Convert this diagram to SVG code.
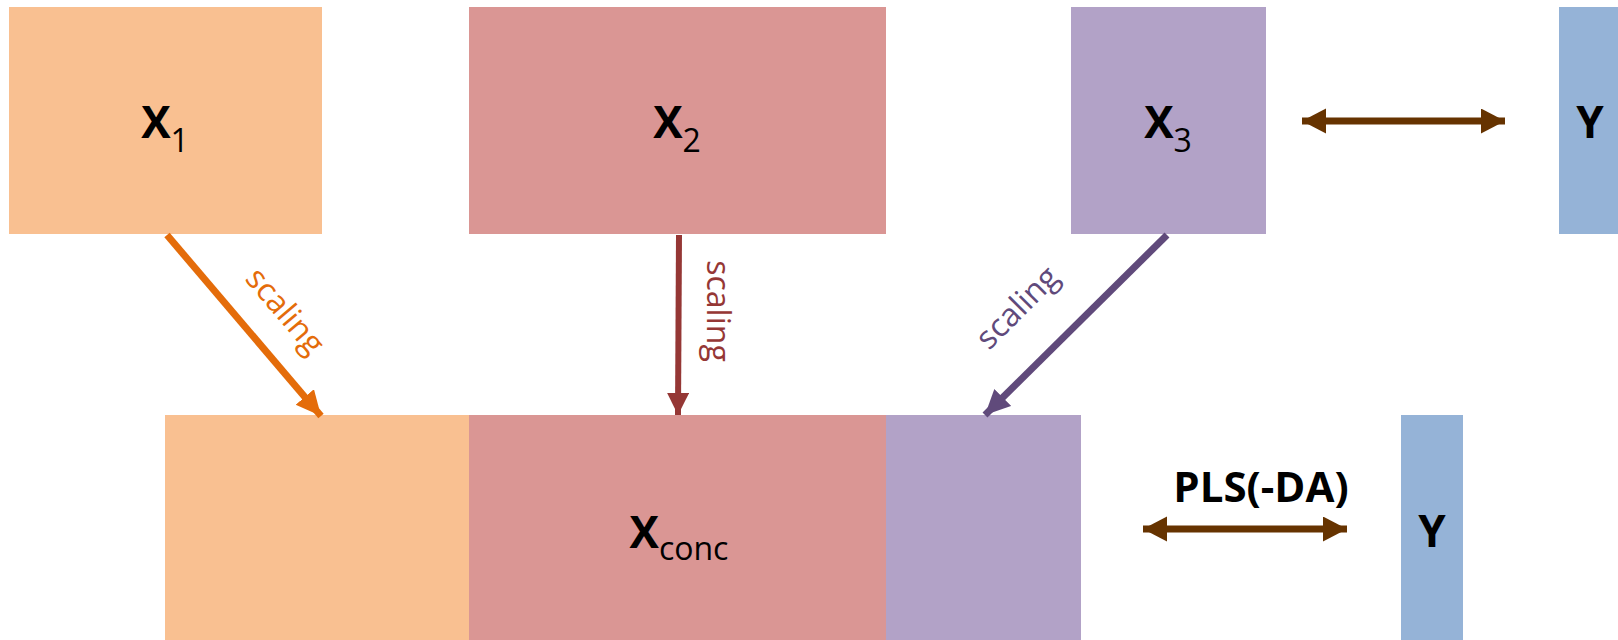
<svg xmlns="http://www.w3.org/2000/svg" width="1618" height="640" viewBox="0 0 1618 640">
<style>
.lbl{font-family:"Open Sans","Noto Sans",sans-serif;font-weight:700;fill:#000;}
.sub{font-weight:400;}
.sc{font-family:"Open Sans","Noto Sans",sans-serif;font-size:32px;}
</style>
<defs>
<marker id="hOr" markerUnits="userSpaceOnUse" markerWidth="30" markerHeight="30" refX="25" refY="12" orient="auto"><path d="M0,0 L25,12 L0,24 Z" fill="#E46C0A"/></marker>
<marker id="hPk" markerUnits="userSpaceOnUse" markerWidth="30" markerHeight="30" refX="22" refY="11" orient="auto"><path d="M0,0 L22,11 L0,22 Z" fill="#953735"/></marker>
<marker id="hPu" markerUnits="userSpaceOnUse" markerWidth="30" markerHeight="30" refX="25" refY="12" orient="auto"><path d="M0,0 L25,12 L0,24 Z" fill="#604A7B"/></marker>
<marker id="hBr" markerUnits="userSpaceOnUse" markerWidth="30" markerHeight="30" refX="24" refY="12.5" orient="auto-start-reverse"><path d="M0,0 L24,12.5 L0,25 Z" fill="#663300"/></marker>
</defs>
<rect width="1618" height="640" fill="#fff"/>
<g id="X1"><rect x="9" y="7" width="313" height="227" fill="#F9C091"/><text class="lbl" x="165" y="138" font-size="44" text-anchor="middle">X<tspan class="sub" font-size="32" dy="14">1</tspan></text></g>
<g id="X2"><rect x="469" y="7" width="417" height="227" fill="#DA9694"/><text class="lbl" x="677" y="138" font-size="44" text-anchor="middle">X<tspan class="sub" font-size="32" dy="14">2</tspan></text></g>
<g id="X3"><rect x="1071" y="7" width="195" height="227" fill="#B2A2C7"/><text class="lbl" x="1168" y="138" font-size="44" text-anchor="middle">X<tspan class="sub" font-size="32" dy="14">3</tspan></text></g>
<g id="Ytop"><rect x="1559" y="7" width="62" height="227" fill="#95B3D7"/><text class="lbl" x="1590" y="138" font-size="44" text-anchor="middle">Y</text></g>
<g id="Xconc"><rect x="165" y="415" width="305" height="225" fill="#F9C091"/><rect x="469" y="415" width="417" height="225" fill="#DA9694"/><rect x="886" y="415" width="195" height="225" fill="#B2A2C7"/><text class="lbl" x="679" y="548" font-size="44" text-anchor="middle">X<tspan class="sub" font-size="32" dy="12">conc</tspan></text></g>
<g id="Ybot"><rect x="1401" y="415" width="62" height="225" fill="#95B3D7"/><text class="lbl" x="1432" y="547" font-size="44" text-anchor="middle">Y</text></g>
<g id="connectors">
<line x1="167" y1="235" x2="321" y2="416" stroke="#E46C0A" stroke-width="7" marker-end="url(#hOr)"/>
<line x1="679" y1="235" x2="678" y2="415" stroke="#953735" stroke-width="6" marker-end="url(#hPk)"/>
<line x1="1167" y1="235" x2="985" y2="415" stroke="#604A7B" stroke-width="7" marker-end="url(#hPu)"/>
<line x1="1302" y1="121" x2="1505" y2="121" stroke="#663300" stroke-width="7" marker-start="url(#hBr)" marker-end="url(#hBr)"/>
<line x1="1143" y1="529" x2="1347" y2="529" stroke="#663300" stroke-width="7" marker-start="url(#hBr)" marker-end="url(#hBr)"/>
<text class="sc" fill="#E46C0A" text-anchor="middle" transform="translate(277,318) rotate(49.6)">scaling</text>
<text class="sc" fill="#953735" text-anchor="middle" transform="translate(707,311) rotate(90)">scaling</text>
<text class="sc" fill="#604A7B" text-anchor="middle" transform="translate(1025,315) rotate(-45)">scaling</text>
<text class="lbl" x="1261" y="502" font-size="42" text-anchor="middle">PLS(-DA)</text>
</g>
</svg>
